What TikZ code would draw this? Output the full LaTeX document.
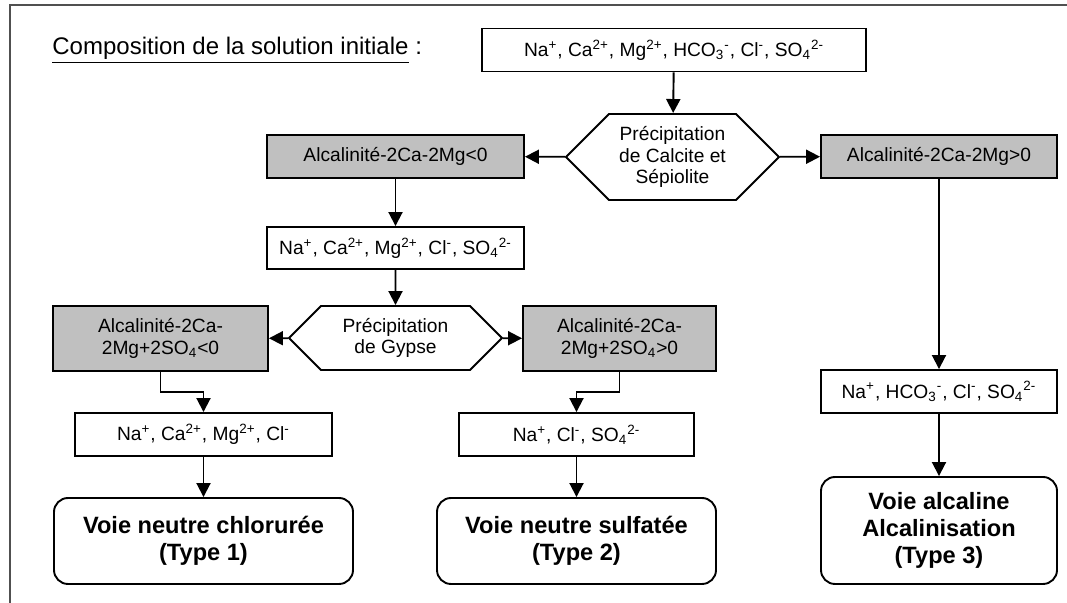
\documentclass[tikz,border=0pt]{standalone}
\usepackage{fontspec}
\setmainfont{Liberation Sans}
\usepackage{tikz}
\usetikzlibrary{shapes.symbols, arrows.meta}
\definecolor{gris}{HTML}{C0C0C0}
\definecolor{cadre}{HTML}{505050}

\begin{document}
\begin{tikzpicture}[x = 0.5pt, y = -0.5pt,
    every node/.style = {inner sep = 0pt, font = \fontsize{9.6}{10.8}\selectfont},
    ions/.style = {draw, line width = 0.95pt, fill = white, align = center},
    grisbox/.style = {ions, fill = gris},
    precip/.style = {draw, line width = 0.95pt, signal, signal to = east and west, signal pointer angle = 90, align = center},
    voie/.style = {draw, line width = 0.95pt, rounded corners = 7pt, align = center, font = \fontsize{11.8}{13.7}\selectfont\bfseries},
    fleche/.style = {line width = 0.95pt, -{Triangle[length = 7pt, width = 7pt]}}]
    \useasboundingbox (0,0) rectangle (1067,603);
    % Cadre
    \draw[cadre, line width = 0.8pt] (10,603) -- (10,5) -- (1067,5);
    % Titre
    \node[anchor = west, font = \fontsize{12}{14}\selectfont] (titre) at (52,50) {\underline{Composition de la solution initiale} :};
    % Solution initiale
    \node[ions, minimum width = 192pt, minimum height = 21.5pt] (sol) at (674,50) {Na\textsuperscript{+}, Ca\textsuperscript{2+}, Mg\textsuperscript{2+}, HCO\textsubscript{3}\textsuperscript{-}, Cl\textsuperscript{-}, SO\textsubscript{4}\textsuperscript{2-}};
    \node[precip, minimum width = 106.5pt, minimum height = 43pt] (calcite) at (672.5,157) {Précipitation\\de Calcite et\\Sépiolite};
    \node[grisbox, minimum width = 128.5pt, minimum height = 21.5pt] (neg) at (395.5,156.5) {Alcalinité-2Ca-2Mg<0};
    \node[grisbox, minimum width = 118pt, minimum height = 21.5pt] (pos) at (939,156.5) {Alcalinité-2Ca-2Mg>0};
    % Voie neutre
    \node[ions, minimum width = 128.5pt, minimum height = 21pt] (solA) at (395.5,248) {Na\textsuperscript{+}, Ca\textsuperscript{2+}, Mg\textsuperscript{2+}, Cl\textsuperscript{-}, SO\textsubscript{4}\textsuperscript{2-}};
    \node[precip, minimum width = 106.5pt, minimum height = 32pt] (gypse) at (395.5,338) {Précipitation\\de Gypse};
    \node[grisbox, minimum width = 107.5pt, minimum height = 32.5pt] (negS) at (160.5,338.5) {Alcalinité-2Ca-\\2Mg+2SO\textsubscript{4}<0};
    \node[grisbox, minimum width = 96.5pt, minimum height = 32.5pt] (posS) at (619.5,338.5) {Alcalinité-2Ca-\\2Mg+2SO\textsubscript{4}>0};
    \node[ions, minimum width = 128.5pt, minimum height = 21.5pt] (solB) at (203.5,434.5) {Na\textsuperscript{+}, Ca\textsuperscript{2+}, Mg\textsuperscript{2+}, Cl\textsuperscript{-}};
    \node[ions, minimum width = 117.5pt, minimum height = 21.5pt] (solC) at (576.5,434.5) {Na\textsuperscript{+}, Cl\textsuperscript{-}, SO\textsubscript{4}\textsuperscript{2-}};
    \node[voie, minimum width = 149.5pt, minimum height = 43pt] (type1) at (203.5,541) {Voie neutre chlorurée\\(Type 1)};
    \node[voie, minimum width = 139.5pt, minimum height = 43pt] (type2) at (576.5,541) {Voie neutre sulfatée\\(Type 2)};
    % Voie alcaline
    \node[ions, minimum width = 118pt, minimum height = 21.5pt] (solD) at (939,391.5) {Na\textsuperscript{+}, HCO\textsubscript{3}\textsuperscript{-}, Cl\textsuperscript{-}, SO\textsubscript{4}\textsuperscript{2-}};
    \node[voie, minimum width = 118pt, minimum height = 53.5pt] (type3) at (939,530.5) {Voie alcaline\\Alcalinisation\\(Type 3)};
    % Fleches
    \draw[fleche] (sol) -- (calcite);
    \draw[fleche] (calcite) -- (neg);
    \draw[fleche] (calcite) -- (pos);
    \draw[fleche] (neg) -- (solA);
    \draw[fleche] (solA) -- (gypse);
    \draw[fleche] (gypse) -- (negS);
    \draw[fleche] (gypse) -- (posS);
    \draw[fleche] (negS.south) -- ++(0,20) -| (solB.north);
    \draw[fleche] (posS.south) -- ++(0,20) -| (solC.north);
    \draw[fleche] (solB) -- (type1);
    \draw[fleche] (solC) -- (type2);
    \draw[fleche] (pos) -- (solD);
    \draw[fleche] (solD) -- (type3);
\end{tikzpicture}
\end{document}
